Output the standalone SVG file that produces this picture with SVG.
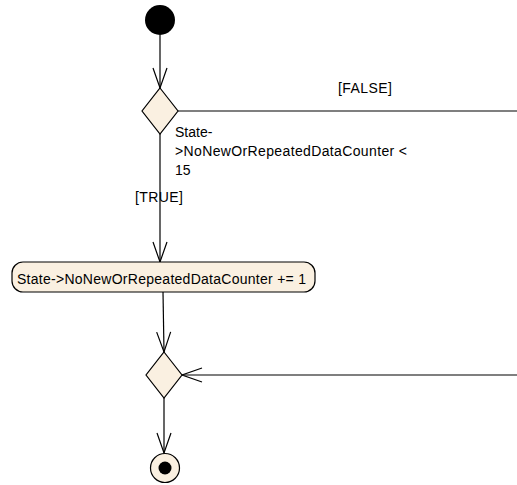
<svg xmlns="http://www.w3.org/2000/svg" width="517" height="485" viewBox="0 0 517 485">
<style>
.n{fill:#FAF0E1;stroke:#000;stroke-width:1.2}
.c{fill:none;stroke:#000;stroke-width:1.2}
.t{font-family:"Liberation Sans",Arial,sans-serif;font-size:14px;fill:#000}
</style>
<defs>
<marker id="a" markerUnits="userSpaceOnUse" markerWidth="24" markerHeight="18" viewBox="-22 -9 24 18" refX="0" refY="0" orient="auto">
<path d="M-20,-7 L0,0 L-20,7" fill="none" stroke="#000" stroke-width="1.2"/>
</marker>
</defs>
<rect width="517" height="485" fill="#fff"/>
<g id="connectors">
<line class="c" x1="160" y1="35" x2="160" y2="88" marker-end="url(#a)"/>
<line class="c" x1="178" y1="111" x2="517" y2="111"/>
<text class="t" x="338" y="93" textLength="54" lengthAdjust="spacing">[FALSE]</text>
<line class="c" x1="160" y1="134" x2="160" y2="262" marker-end="url(#a)"/>
<text class="t" x="135" y="202" textLength="48" lengthAdjust="spacing">[TRUE]</text>
<line class="c" x1="163" y1="292" x2="164" y2="352" marker-end="url(#a)"/>
<line class="c" x1="517" y1="375" x2="182" y2="375" marker-end="url(#a)"/>
<line class="c" x1="164" y1="398" x2="164" y2="453" marker-end="url(#a)"/>
</g>
<g id="start">
<circle cx="160" cy="20" r="15" fill="#000"/>
</g>
<g id="decision1">
<polygon class="n" points="160,88 178,111 160,134 142,111"/>
<text class="t" x="175" y="137">State-</text>
<text class="t" x="175" y="156" textLength="232" lengthAdjust="spacing">&gt;NoNewOrRepeatedDataCounter &lt;</text>
<text class="t" x="175" y="175">15</text>
</g>
<g id="action">
<rect class="n" x="12" y="262" width="303" height="30" rx="11" ry="11"/>
<text class="t" x="17" y="284" textLength="289" lengthAdjust="spacing">State-&gt;NoNewOrRepeatedDataCounter += 1</text>
</g>
<g id="merge">
<polygon class="n" points="164,352 182,375 164,398 146,375"/>
</g>
<g id="end">
<circle class="n" cx="165" cy="468" r="14.5"/>
<circle cx="165" cy="468" r="6.5" fill="#000"/>
</g>
</svg>
